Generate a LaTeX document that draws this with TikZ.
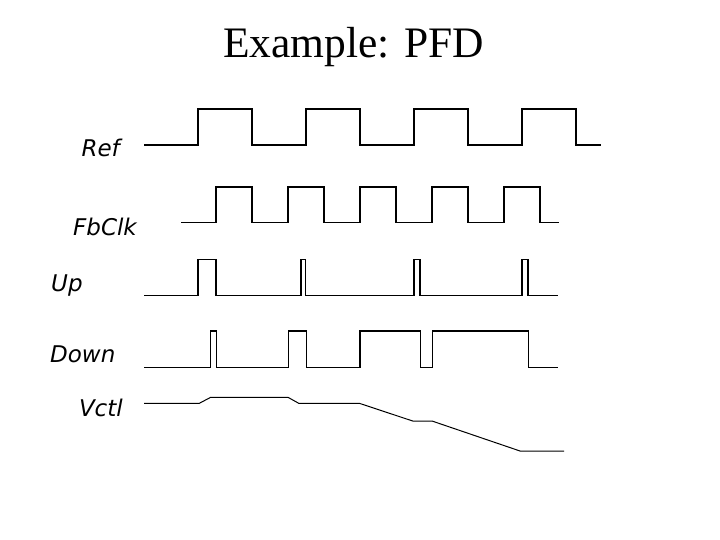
\documentclass[tikz,border=0pt]{standalone}
\usepackage{fontspec}
\setmainfont{Liberation Serif}
\newfontfamily\lblfont{DejaVu Sans}
\begin{document}
\begin{tikzpicture}[x=1pt,y=-1pt,
  wave/.style={line width=1.3pt,line join=miter},
  slope/.style={line width=1pt},
  lbl/.style={font=\lblfont\itshape\fontsize{23}{25}\selectfont,inner sep=0pt}]
\useasboundingbox (0,0) rectangle (720,540);
\node[font=\fontsize{43.5}{48}\selectfont,anchor=base,inner sep=0pt] (title) at (353.5,57.7) {Example: PFD};
\node[lbl,anchor=east] (ref) at (120,148) {Ref};
\node[lbl,anchor=east] (fb) at (137,227) {FbClk};
\node[lbl,anchor=west] (up) at (51,286) {Up};
\node[lbl,anchor=west] (down) at (50,354) {Down};
\node[lbl,anchor=east] (vctl) at (123,408) {Vctl};
% Ref
\draw[wave] (144,145) -- (198,145) -- (198,109) -- (252,109) -- (252,145) -- (306,145) -- (306,109) -- (360,109) -- (360,145)
  -- (414,145) -- (414,109) -- (468,109) -- (468,145) -- (522,145) -- (522,109) -- (576,109) -- (576,145) -- (601,145);
% FbClk
\draw[wave] (181,222.7) -- (216,222.7) -- (216,187) -- (252,187) -- (252,222.7) -- (288,222.7) -- (288,187) -- (324,187) -- (324,222.7)
  -- (360,222.7) -- (360,187) -- (396,187) -- (396,222.7) -- (432,222.7) -- (432,187) -- (468,187) -- (468,222.7)
  -- (504,222.7) -- (504,187) -- (540,187) -- (540,222.7) -- (559,222.7);
% Up
\draw[wave] (144,295.7) -- (198,295.7) -- (198,259.7) -- (216,259.7) -- (216,295.7) -- (301,295.7) -- (301,259.7) -- (305.7,259.7) -- (305.7,295.7)
  -- (414,295.7) -- (414,259.7) -- (420,259.7) -- (420,295.7) -- (522,295.7) -- (522,259.7) -- (528,259.7) -- (528,295.7) -- (558,295.7);
% Down
\draw[wave] (144,367.3) -- (210.7,367.3) -- (210.7,331) -- (216.3,331) -- (216.3,367.3) -- (288.7,367.3) -- (288.7,331) -- (306.3,331) -- (306.3,367.3)
  -- (360,367.3) -- (360,331) -- (420.3,331) -- (420.3,367.3) -- (432.3,367.3) -- (432.3,331) -- (528.3,331) -- (528.3,367.3) -- (558,367.3);
% Vctl
\draw[slope] (144,403.3) -- (199.3,403.3) -- (210.7,397.3) -- (288,397.3) -- (298.7,403.3) -- (359.3,403.3) -- (412.7,421) -- (432,421) -- (520,451) -- (564,451);
\end{tikzpicture}
\end{document}
